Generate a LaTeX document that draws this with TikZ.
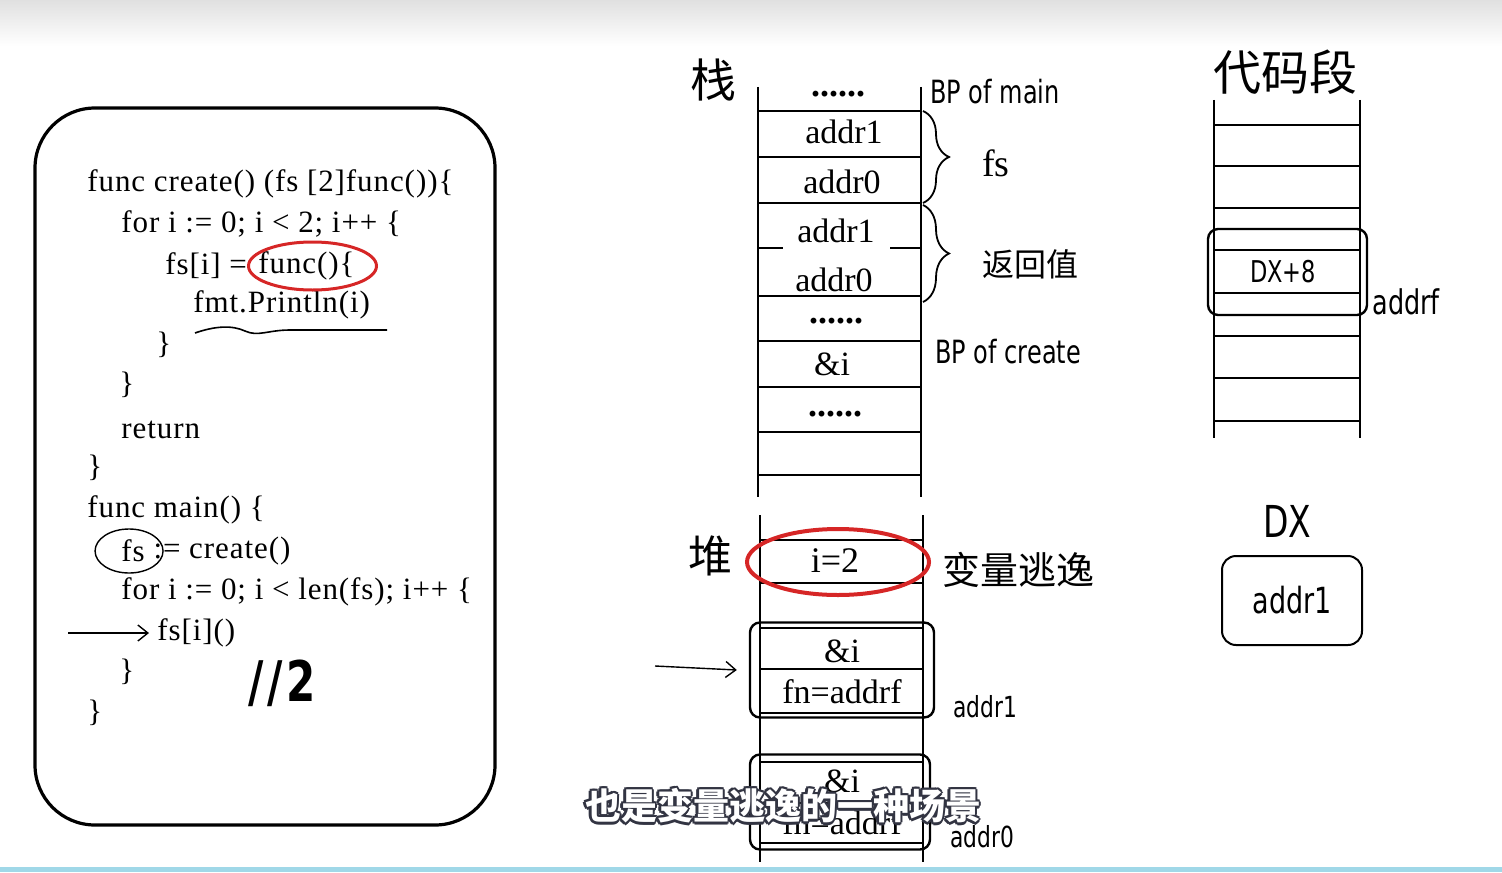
\documentclass[tikz,border=0pt]{standalone}
\usepackage{fontspec}
\setmainfont{Liberation Serif}
\newfontfamily\codefont[LetterSpace=3]{Liberation Serif}
\newfontfamily\handfont[FakeStretch=0.75]{DejaVu Sans}
\newfontfamily\cjkfont{Noto Sans CJK SC}
\usepackage{tikz}
\usetikzlibrary{arrows.meta,shapes.geometric,decorations.pathreplacing}
\definecolor{EscapeRed}{RGB}{214,38,38}
\definecolor{SubEdge}{RGB}{50,52,66}
\definecolor{TrackBlue}{RGB}{160,216,232}

\begin{document}
\begin{tikzpicture}[x=0.5pt,y=-0.5pt,>={Straight Barb[length=5pt,width=8pt]},
  code/.style={anchor=west,inner sep=0pt,font=\codefont\fontsize{15.5}{17}\selectfont},
  cell/.style={inner sep=0pt,font=\fontsize{17}{19}\selectfont},
  dots/.style={inner sep=0pt,font=\bfseries\fontsize{18}{20}\selectfont},
  hand/.style={anchor=west,inner sep=0pt,font=\handfont\fontsize{16}{18}\selectfont},
  hanzi/.style={inner sep=0pt,font=\cjkfont\fontsize{22}{24}\selectfont},
  ring/.style={draw=EscapeRed,ellipse,line width=1.5pt,inner sep=0pt},
  slotbox/.style={draw,rounded corners=5pt,line width=1.2pt,inner sep=0pt},
  rule/.style={line width=0.9pt}]
  \useasboundingbox (0,0) rectangle (1502,872);
  \shade[top color=black!12,bottom color=white] (0,0) rectangle (1502,46);
  \fill[TrackBlue] (0,867) rectangle (1502,872);

  % source code panel
  \draw[line width=1.6pt,rounded corners=30pt] (35,108) rectangle (495,825);
  \node[code] (fCreate) at (87,184) {func create() (fs [2]func())\{};
  \node[code] (forA) at (121,224) {for i := 0; i < 2; i++ \{};
  \node[code] (fsAssign) at (165,266) {fs[i] =};
  \node[code] (fnLit) at (258,266) {func()\{};
  \node[code] (printLn) at (193,305) {fmt.Println(i)};
  \node[code] (closeA) at (156,345) {\}};
  \node[code] (closeB) at (119,385) {\}};
  \node[code] (ret) at (121,430) {return};
  \node[code] (closeC) at (87,468) {\}};
  \node[code] (fMain) at (87,510) {func main() \{};
  \node[code] (fsVar) at (121,551) {fs};
  \node[code] (callCreate) at ([xshift=4pt]fsVar.east) {:= create()};
  \node[code] (forB) at (121,592) {for i := 0; i < len(fs); i++ \{};
  \node[code] (fsCall) at (157,633) {fs[i]()};
  \node[code] (closeD) at (119,672) {\}};
  \node[code] (closeE) at (87,713) {\}};
  \node[font=\handfont\bfseries\fontsize{28}{30}\selectfont,inner sep=0pt] (noteTwo) at (282,683) {/\kern2pt/\kern2pt2};

  \node[ring,minimum width=64pt,minimum height=24pt] (fnRing) at ([xshift=3pt]fnLit.center) {};
  \node[draw,ellipse,line width=0.7pt,minimum width=34pt,minimum height=22pt] (fsRing) at ([xshift=-2pt]fsVar.center) {};
  \draw[line width=0.8pt] (195,333) .. controls (215,326) and (232,325) .. (245,331)
    .. controls (258,337) and (268,330) .. (290,330) -- (387,330);
  \coordinate (callFrom) at (68,633);
  \draw[->,line width=0.7pt] (callFrom) -- ([xshift=-4pt]fsCall.west);

  % stack
  \node[hanzi,font=\cjkfont\fontsize{23}{25}\selectfont] (stackTitle) at (713,80) {栈};
  \draw[rule] (758,87) -- (758,497);
  \draw[rule] (921,87) -- (921,497);
  \foreach \y in {111,157,203,296,341,387,432,475}
    \draw[rule] (758,\y) -- (921,\y);
  \draw[rule] (758,248) -- (783,248);
  \draw[rule] (890,248) -- (921,248);
  \node[dots] (sTop) at (838,94) {......};
  \node[cell] (sFs1) at (844,132) {addr1};
  \node[cell] (sFs0) at (842,182) {addr0};
  \node[cell] (sRet1) at (836,231) {addr1};
  \node[cell] (sRet0) at (834,280) {addr0};
  \node[dots] (sMid) at (836,321) {......};
  \node[cell] (sRef) at (832,364) {\&i};
  \node[dots] (sLow) at (835,414) {......};

  \draw[rule,decorate,decoration={brace,amplitude=13pt}] (923,111) -- (923,203);
  \draw[rule,decorate,decoration={brace,amplitude=13pt}] (923,205) -- (923,302);
  \node[cell,font=\fontsize{19}{21}\selectfont] (fsLabel) at (996,163) {fs};
  \node[hanzi,font=\cjkfont\fontsize{16}{18}\selectfont] (retLabel) at (1030,264) {返回值};
  \node[hand] (bpMain) at (930,92) {BP of main};
  \node[hand] (bpCreate) at (935,352) {BP of create};

  % heap
  \node[hanzi] (heapTitle) at (710,556) {堆};
  \draw[rule] (760,515) -- (760,862);
  \draw[rule] (923,515) -- (923,862);
  \draw[rule] (760,540) -- (923,540);
  \draw[rule] (760,583) -- (923,583);
  \node[cell,font=\fontsize{18}{20}\selectfont] (hI) at (835,561) {i=2};
  \node[ring,line width=2pt,minimum width=91pt,minimum height=33pt] (iRing) at (838,562) {};
  \node[hanzi,anchor=west,font=\cjkfont\fontsize{19}{21}\selectfont] (escLabel) at (942,570) {变量逃逸};

  \node[slotbox,minimum width=92pt,minimum height=47.5pt] (obj1) at (842,670) {};
  \foreach \y in {628,669,713}
    \draw[rule] (760,\y) -- (923,\y);
  \node[cell] (o1Ref) at (842,651) {\&i};
  \node[cell] (o1Fn) at (842,692) {fn=addrf};
  \node[hand,font=\handfont\fontsize{14.5}{16}\selectfont] (o1Addr) at (953,707) {addr1};
  \coordinate (heapFrom) at (655,666);
  \draw[->,line width=0.7pt] (heapFrom) -- ([xshift=-6pt]obj1.west);

  \node[slotbox,minimum width=90pt,minimum height=47.5pt] (obj0) at (840,802) {};
  \foreach \y in {762,803,843}
    \draw[rule] (760,\y) -- (923,\y);
  \node[cell] (o0Ref) at (842,781) {\&i};
  \node[cell] (o0Fn) at (842,823) {fn=addrf};
  \node[hand,font=\handfont\fontsize{14.5}{16}\selectfont] (o0Addr) at (950,837) {addr0};

  % code segment
  \node[hanzi,font=\cjkfont\fontsize{24}{26}\selectfont] (textTitle) at (1285,72) {代码段};
  \draw[rule] (1214,100) -- (1214,438);
  \draw[rule] (1360,100) -- (1360,438);
  \foreach \y in {125,166,208,250,293,336,378,421}
    \draw[rule] (1214,\y) -- (1360,\y);
  \node[slotbox,minimum width=79.5pt,minimum height=43pt] (dxSlot) at (1287.5,272) {};
  \node[hand,anchor=center,font=\handfont\fontsize{15}{17}\selectfont] (dxPlus) at (1283,272) {DX+8};
  \node[hand,font=\handfont\fontsize{17}{19}\selectfont] (addrF) at (1372,302) {addrf};

  \node[hand,anchor=center,font=\handfont\fontsize{22}{24}\selectfont] (dxTitle) at (1287,521) {DX};
  \node[draw,rounded corners=7pt,line width=1pt,minimum width=70pt,minimum height=44.5pt,
    font=\handfont\fontsize{18}{20}\selectfont] (dxReg) at (1292,600.5) {addr1};

  % subtitle
  \foreach \a in {0,45,...,315}
    \node[hanzi,font=\cjkfont\bfseries\fontsize{18}{20}\selectfont,text=SubEdge,shift={(\a:1.4pt)}] (sub\a) at (783,806) {也是变量逃逸的一种场景};
  \node[hanzi,font=\cjkfont\bfseries\fontsize{18}{20}\selectfont,text=white] (subLine) at (783,806) {也是变量逃逸的一种场景};
\end{tikzpicture}
\end{document}
